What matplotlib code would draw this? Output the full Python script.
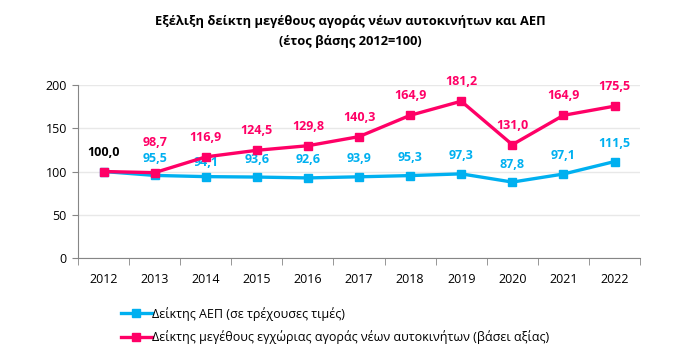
import matplotlib
matplotlib.use("Agg")
import matplotlib.pyplot as plt

plt.rcParams['font.family'] = ['Open Sans', 'DejaVu Sans']

years = ['2012', '2013', '2014', '2015', '2016', '2017', '2018', '2019', '2020', '2021', '2022']
gdp = [100.0, 95.5, 94.1, 93.6, 92.6, 93.9, 95.3, 97.3, 87.8, 97.1, 111.5]
cars = [100.0, 98.7, 116.9, 124.5, 129.8, 140.3, 164.9, 181.2, 131.0, 164.9, 175.5]

title = 'Εξέλιξη δείκτη μεγέθους αγοράς νέων αυτοκινήτων και ΑΕΠ\n(έτος βάσης 2012=100)'
gdp_label = 'Δείκτης ΑΕΠ (σε τρέχουσες τιμές)'
cars_label = 'Δείκτης μεγέθους εγχώριας αγοράς νέων αυτοκινήτων (βάσει αξίας)'

blue = '#00B0F0'
pink = '#FF0066'

fig = plt.figure(figsize=(7, 3.63), dpi=100)
ax = fig.add_axes([0.1114, 0.289, 0.803, 0.477])

x = list(range(len(years)))
l1, = ax.plot(x, gdp, color=blue, lw=2.4, marker='s', ms=5.5, label=gdp_label, zorder=3)
l2, = ax.plot(x, cars, color=pink, lw=2.4, marker='s', ms=5.5, label=cars_label, zorder=4)

def fmt(v):
    return f'{v:.1f}'.replace('.', ',')

# label offsets (points, label centre) above each marker
pink_off = [14, 22, 14, 14, 14, 14, 14, 14, 13.5, 14, 14]
blue_off = [13, 12.5, 10, 13, 13, 13, 13, 13, 13, 13, 13]

for i, (g, c) in enumerate(zip(gdp, cars)):
    if i == 0:
        ax.annotate(fmt(c), (i, c), xytext=(0, pink_off[i]), textcoords='offset points',
                    ha='center', va='center', color='black', fontsize=9, fontweight='bold')
        continue
    ax.annotate(fmt(c), (i, c), xytext=(0, pink_off[i]), textcoords='offset points',
                ha='center', va='center', color=pink, fontsize=9, fontweight='bold')
    ax.annotate(fmt(g), (i, g), xytext=(0, blue_off[i]), textcoords='offset points',
                ha='center', va='center', color=blue, fontsize=9, fontweight='bold')

ax.set_xlim(-0.5, len(years) - 0.5)
ax.set_ylim(0, 200)
ax.set_yticks([0, 50, 100, 150, 200])
ax.set_xticks(x)
ax.set_xticklabels(years)
ax.set_xticks([i - 0.5 for i in range(len(years) + 1)], minor=True)
ax.tick_params(axis='x', which='major', length=0, pad=11, labelsize=9)
ax.tick_params(axis='x', which='minor', length=5, color='#868686', direction='out')
ax.tick_params(axis='y', length=4, color='#868686', labelsize=9, pad=4)
ax.grid(axis='y', color='#E8E8E8', lw=1)
ax.set_axisbelow(True)
for s in ['top', 'right']:
    ax.spines[s].set_visible(False)
ax.spines['left'].set_color('#868686')
ax.spines['bottom'].set_color('#868686')

fig.text(0.5, 0.96, title, ha='center', va='top', fontsize=9.3, fontweight='bold',
         linespacing=1.75)

fig.legend(handles=[l1, l2], loc='upper left', bbox_to_anchor=(0.165, 0.168),
           frameon=False, fontsize=9, handlelength=2.5, handletextpad=0.05,
           labelspacing=0.75, borderaxespad=0)

fig.savefig('out.png', dpi=100)
